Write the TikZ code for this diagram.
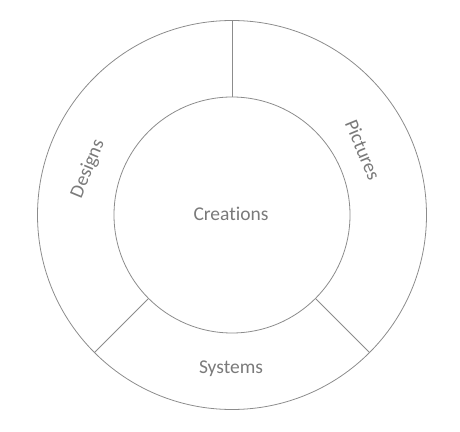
\documentclass[tikz,border=0pt]{standalone}
\usepackage{fontspec}
\setmainfont[Ligatures=NoCommon]{Carlito}
\usetikzlibrary{positioning}
\colorlet{ringgray}{black!45}
\colorlet{labelgray}{black!52}
\newcommand{\innerdiam}{236pt}
\newcommand{\outerdiam}{389pt}
\tikzset{
    ringsty/.style={draw=ringgray,circle,inner sep=0pt,outer sep=0pt,line width=0.8pt},
    cutsty/.style={draw=ringgray,line width=0.8pt},
    labelsty/.style={text=labelgray,font=\fontsize{19.5}{23}\selectfont,inner sep=0pt},
}

\begin{document}
\begin{tikzpicture}[x=1pt,y=1pt]
\useasboundingbox (0,0) rectangle (460,431);
\node (outer) [ringsty,minimum size=\outerdiam] at (232,216) {};
\node (inner) [ringsty,minimum size=\innerdiam] at (232,216) {};

\draw[cutsty] (inner.90) -- (outer.90);
\draw[cutsty] (inner.225) -- (outer.225);
\draw[cutsty] (inner.-45) -- (outer.-45);

\node (creations) [labelsty] at (231,217) {Creations};
\node (systems) [labelsty] at (231,62) {Systems};
\node (designs) [labelsty,rotate=67.5] at (88,262) {Designs};
\node (pictures) [labelsty,rotate=-67.5] at (363,281) {Pictures};
\end{tikzpicture}
\end{document}
